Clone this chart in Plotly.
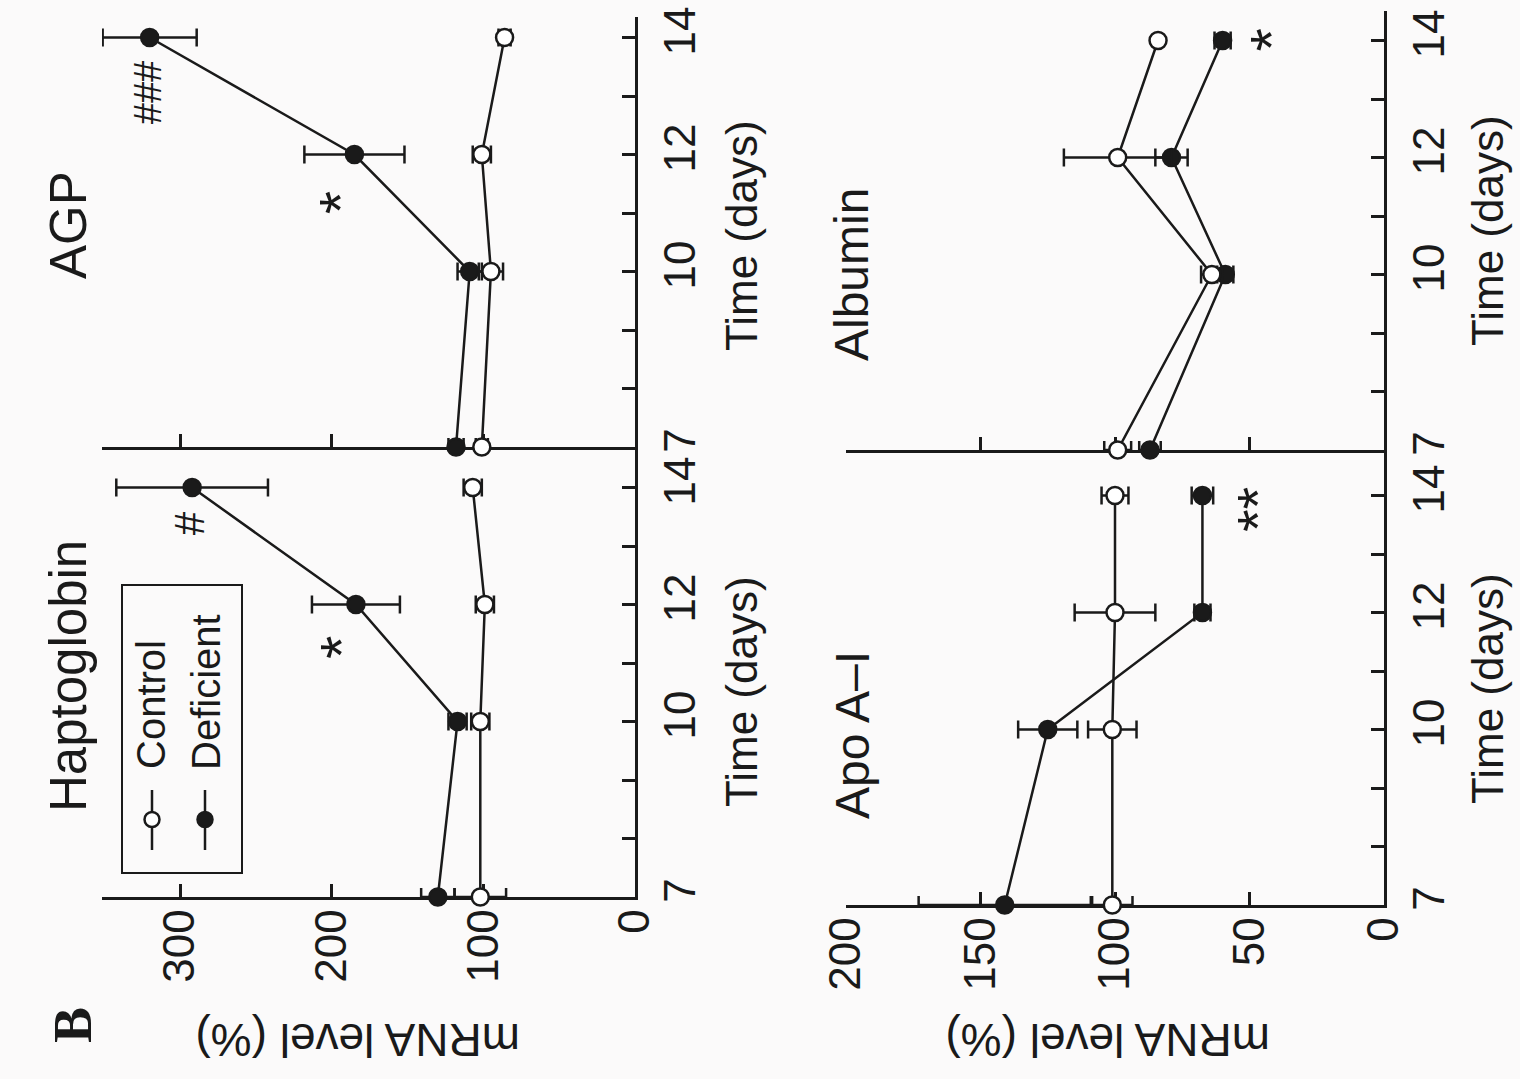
import plotly.graph_objects as go

W, H = 1520, 1079


def px(x):
    return x / W


def py(y):
    return 1 - y / H


# ---------------- data ----------------
time_days = [7, 10, 12, 14]
time_tickvals = [7, 8, 9, 10, 11, 12, 13, 14]
time_ticktext = ["7", "", "", "10", "", "12", "", "14"]

hapto_control = [102, 102, 99, 107]
hapto_control_err = [17, 6, 6, 6]
hapto_deficient = [130, 117, 184, 292]
hapto_deficient_err = [11, 6, 29, 50]

agp_control = [101, 95, 101, 86]
agp_control_err = [4, 8, 6, 4]
agp_deficient = [118, 109, 185, 320]
agp_deficient_err = [5, 8, 33, 31]

apo_control = [101, 101, 100, 100]
apo_control_err = [7.5, 9, 15, 5]
apo_deficient = [141, 125, 67.5, 67.5]
apo_deficient_err = [32, 11, 3, 4]

alb_control = [99, 64, 99, 84]
alb_control_err = [5, 4, 20, 0]
alb_deficient = [87, 59, 79, 60]
alb_deficient_err = [4, 3, 6, 3]

top_ticks = [0, 100, 200, 300]
bottom_ticks = [0, 50, 100, 150, 200]

panel_titles = ["Haptoglobin", "AGP", "Apo A\u2013I", "Albumin"]
legend_labels = ["Control", "Deficient"]

# significance marks: (axis suffix, text, mRNA value, time, font size)
sig_marks = [
    ("", "*", 194, 11.27, 60),
    ("", "#", 294, 13.39, 42),
    ("2", "*", 194, 11.18, 60),
    ("2", "###", 321, 13.05, 38),
    ("3", "**", 47, 13.76, 58),
    ("4", "*", 42, 14.0, 60),
]

FONT = "Liberation Sans"
BLACK = "#1a1a1a"

fig = go.Figure()

panels = [
    ("", hapto_control, hapto_control_err, hapto_deficient, hapto_deficient_err),
    ("2", agp_control, agp_control_err, agp_deficient, agp_deficient_err),
    ("3", apo_control, apo_control_err, apo_deficient, apo_deficient_err),
    ("4", alb_control, alb_control_err, alb_deficient, alb_deficient_err),
]

for sfx, c, ce, d, de in panels:
    for vals, errs, fill, name in [(d, de, BLACK, "Deficient"), (c, ce, "white", "Control")]:
        fig.add_trace(go.Scatter(
            x=vals, y=time_days, name=name, mode="lines+markers",
            xaxis="x" + sfx, yaxis="y" + sfx, cliponaxis=False,
            line=dict(color=BLACK, width=2.5),
            marker=dict(symbol="circle", size=17, color=fill,
                        line=dict(color=BLACK, width=2.5)),
            error_x=dict(type="data", array=errs, symmetric=True,
                         color=BLACK, thickness=2.5, width=9),
            showlegend=False,
        ))

tick_font = dict(family=FONT, size=44, color=BLACK)
common_axis = dict(showline=True, linecolor=BLACK, linewidth=2.5, ticks="inside",
                   ticklen=13, tickwidth=2.5, tickcolor=BLACK, showgrid=False,
                   zeroline=False, tickfont=tick_font, layer="below traces",
                   fixedrange=True, automargin=False)

LX0, LX1 = 102, 635
PX_PER_UNIT_L = (LX1 - 180) / 300.0
left_max = (LX1 - LX0) / PX_PER_UNIT_L
RX0, RX1 = 846, 1384
PX_PER_DAY = 58.5
YSTAND = 4
XSTAND = -8

fig.update_layout(
    xaxis=dict(common_axis, domain=[px(LX0), px(LX1)], range=[left_max, 0], anchor="y",
               tickvals=top_ticks, ticktext=[str(v) for v in top_ticks], tickangle=-90,
               ticklabelstandoff=XSTAND),
    yaxis=dict(common_axis, domain=[py(897), py(447)], range=[7, 7 + (897 - 447) / PX_PER_DAY],
               anchor="x", side="right", tickvals=time_tickvals, ticktext=time_ticktext,
               tickangle=-90, ticklabelstandoff=YSTAND),
    xaxis2=dict(common_axis, domain=[px(LX0), px(LX1)], range=[left_max, 0], anchor="y2",
                tickvals=top_ticks[1:], showticklabels=False),
    yaxis2=dict(common_axis, domain=[py(447), py(17)], range=[7, 7 + (447 - 17) / PX_PER_DAY],
                anchor="x2", side="right", tickvals=time_tickvals, ticktext=time_ticktext,
                tickangle=-90, ticklabelstandoff=YSTAND),
    xaxis3=dict(common_axis, domain=[px(RX0), px(RX1)], range=[200, 0], anchor="y3",
                tickvals=bottom_ticks, ticktext=[str(v) for v in bottom_ticks], tickangle=-90,
                ticklabelstandoff=XSTAND),
    yaxis3=dict(common_axis, domain=[py(905), py(450)], range=[7, 7 + (905 - 450) / PX_PER_DAY],
                anchor="x3", side="right", tickvals=time_tickvals, ticktext=time_ticktext,
                tickangle=-90, ticklabelstandoff=YSTAND),
    xaxis4=dict(common_axis, domain=[px(RX0), px(RX1)], range=[200, 0], anchor="y4",
                tickvals=bottom_ticks[1:], showticklabels=False),
    yaxis4=dict(common_axis, domain=[py(450), py(11)], range=[7, 7 + (450 - 11) / PX_PER_DAY],
                anchor="x4", side="right", tickvals=time_tickvals, ticktext=time_ticktext,
                tickangle=-90, ticklabelstandoff=YSTAND),
)

ann = []


def text(x, y, s, size, angle=-90, family=FONT, bold=False):
    t = "<b>%s</b>" % s if bold else s
    ann.append(dict(x=px(x), y=py(y), xref="paper", yref="paper", text=t, showarrow=False,
                    textangle=angle, xanchor="center", yanchor="middle",
                    font=dict(family=family, size=size, color=BLACK)))


# panel titles
text(68, 676, panel_titles[0], 51)
text(68, 225, panel_titles[1], 51)
text(852, 735, panel_titles[2], 48)
text(852, 275, panel_titles[3], 48)

# axis titles
for x, y in [(741, 692), (741, 236), (1488, 689), (1488, 231)]:
    text(x, y, "Time (days)", 44)
text(358, 1040, "mRNA level (%)", 46, angle=180)
text(1108, 1040, "mRNA level (%)", 46, angle=180)

# panel letter
text(73, 1025, "B", 54, family="Liberation Serif", bold=True)

# significance marks
for sfx, s, xv, tv, fs in sig_marks:
    ann.append(dict(x=xv, y=tv, xref="x" + sfx, yref="y" + sfx, text=s, showarrow=False,
                    textangle=-90, font=dict(family=FONT, size=fs, color=BLACK)))

# legend
text(151, 705, legend_labels[0], 40)
text(206, 692, legend_labels[1], 40)

fig.update_layout(annotations=ann)

shapes = [
    dict(type="rect", xref="paper", yref="paper", x0=px(122), x1=px(242), y0=py(873), y1=py(585),
         line=dict(color=BLACK, width=2)),
]
for lx, fill in [(152, "white"), (205, BLACK)]:
    shapes.append(dict(type="line", xref="paper", yref="paper", x0=px(lx), x1=px(lx),
                       y0=py(850), y1=py(790), line=dict(color=BLACK, width=2.5)))
    shapes.append(dict(type="circle", xref="paper", yref="paper", x0=px(lx - 7.5), x1=px(lx + 7.5),
                       y0=py(827), y1=py(812), fillcolor=fill, line=dict(color=BLACK, width=2.5)))

fig.update_layout(
    shapes=shapes,
    width=W, height=H, autosize=False,
    margin=dict(l=0, r=0, t=0, b=0, pad=0, autoexpand=False),
    paper_bgcolor="#fbfafa", plot_bgcolor="rgba(0,0,0,0)",
    showlegend=False,
)

fig.write_html("out.html")
